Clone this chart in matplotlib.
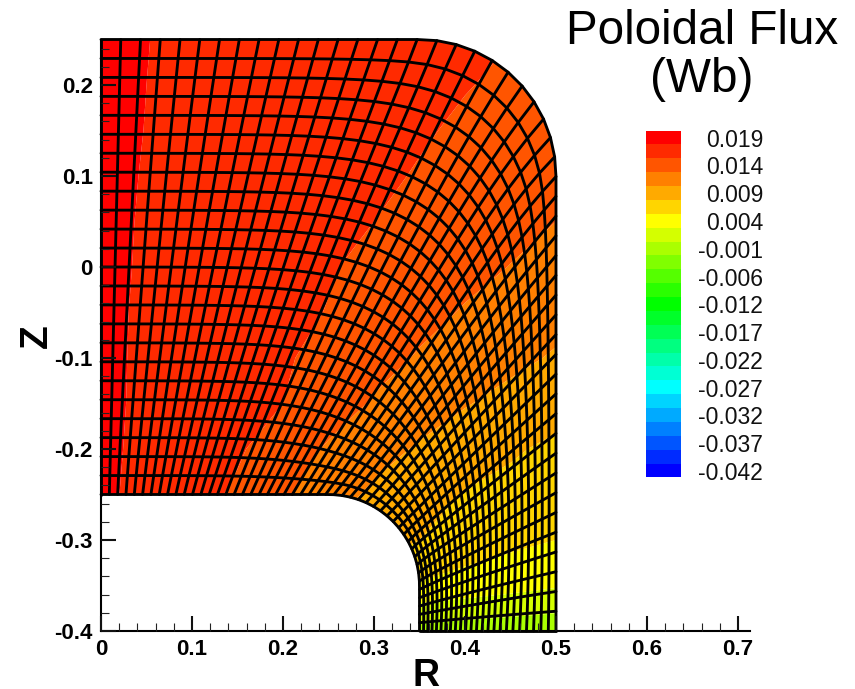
import numpy as np
import matplotlib
matplotlib.use("Agg")
import matplotlib.pyplot as plt
from matplotlib.colors import ListedColormap, BoundaryNorm, hsv_to_rgb
from matplotlib.path import Path
from matplotlib.patches import PathPatch

plt.rcParams['font.family'] = ['Liberation Sans', 'DejaVu Sans']

W, H = 855, 689
# colour bar
cbar_labels = ['0.019', '0.014', '0.009', '0.004', '-0.001', '-0.006', '-0.012',
               '-0.017', '-0.022', '-0.027', '-0.032', '-0.037', '-0.042']
flux_max, flux_min, n_bands = 0.019, -0.042, 25
# axis ticks
x_major = [0, 0.1, 0.2, 0.3, 0.4, 0.5, 0.6, 0.7]
x_labels = ['0', '0.1', '0.2', '0.3', '0.4', '0.5', '0.6', '0.7']
y_major = [-0.4, -0.3, -0.2, -0.1, 0, 0.1, 0.2]
y_labels = ['-0.4', '-0.3', '-0.2', '-0.1', '0', '0.1', '0.2']

# geometry of the domain
R_outer, Z_top, Z_bot_edge = 0.5, 0.25, -0.4
arc_outer_r, arc_inner_r = 0.15, 0.10
R_inner, Z_inner = 0.35, -0.25
n_cols, n_rows = 50, 24
bottom_cell_ratio = 1.9
blend_power = 3
smooth_passes = 40

# flux, expressed as position in the band sequence
grid_R = [0, .05, .10, .15, .20, .25, .30, .35, .40, .45, .50]
grid_Z = [.25, .20, .15, .10, .05, 0, -.05, -.10, -.15, -.20, -.25, -.30, -.35, -.40]
band_z_p25 = [.865, .99, 1.115, 1.24, 1.36, 1.49, 1.61, 1.74, 1.86, 1.99, 2.11]
band_z_p20 = [.86, 1.0, 1.14, 1.28, 1.42, 1.56, 1.69, 1.83, 1.97, 2.11, 2.25]
band_z_p15 = [.86, 1.01, 1.17, 1.32, 1.47, 1.62, 1.78, 1.93, 2.10, 2.30, 2.49]
band_z_p10 = [.86, 1.03, 1.19, 1.36, 1.53, 1.70, 1.87, 2.05, 2.27, 2.50, 2.73]
band_z_p05 = [.86, 1.05, 1.24, 1.42, 1.62, 1.81, 2.00, 2.25, 2.50, 2.75, 3.00]
band_z_0 = [.85, 1.07, 1.29, 1.50, 1.72, 1.94, 2.19, 2.47, 2.74, 3.02, 3.34]
band_z_m05 = [.86, 1.09, 1.32, 1.56, 1.79, 2.03, 2.38, 2.73, 3.07, 3.38, 3.69]
band_z_m10 = [.85, 1.11, 1.38, 1.64, 1.90, 2.27, 2.68, 3.08, 3.42, 3.76, 4.10]
band_z_m15 = [.84, 1.13, 1.42, 1.71, 2.00, 2.56, 3.09, 3.51, 3.94, 4.30, 4.65]
band_z_m20 = [.83, 1.18, 1.54, 1.89, 2.47, 3.11, 3.63, 4.11, 4.52, 4.89, 5.18]
band_z_m25 = [.83, 1.25, 1.67, 2.14, 2.86, 3.57, 4.18, 4.64, 5.05, 5.25, 5.45]
band_z_m30 = [.80, 1.30, 2.00, 2.80, 3.50, 4.20, 4.60, 5.00, 5.45, 5.75, 6.00]
band_z_m35 = [1.0, 1.50, 2.30, 3.20, 4.00, 4.70, 5.40, 6.10, 6.40, 6.65, 6.90]
band_z_m40 = [2.0, 3.00, 4.00, 5.00, 6.00, 7.00, 7.80, 8.40, 8.50, 8.60, 8.70]

band_table = np.array([band_z_p25, band_z_p20, band_z_p15, band_z_p10, band_z_p05, band_z_0,
                       band_z_m05, band_z_m10, band_z_m15, band_z_m20, band_z_m25,
                       band_z_m30, band_z_m35, band_z_m40])


def arc(cx, cy, r, a0, a1, n=60):
    a = np.radians(np.linspace(a0, a1, n))
    return np.column_stack([cx + r * np.cos(a), cy + r * np.sin(a)])


def resample(poly, n):
    d = np.r_[0, np.cumsum(np.hypot(*np.diff(poly, axis=0).T))]
    s = np.linspace(0, d[-1], n)
    return np.column_stack([np.interp(s, d, poly[:, 0]), np.interp(s, d, poly[:, 1])])


outer_poly = np.vstack([[[0, Z_top]],
                        arc(R_outer - arc_outer_r, Z_top - arc_outer_r, arc_outer_r, 90, 0),
                        [[R_outer, Z_bot_edge]]])
inner_poly = np.vstack([[[0, Z_inner]],
                        arc(R_inner - arc_inner_r, Z_inner - arc_inner_r, arc_inner_r, 90, 0),
                        [[R_inner, Z_bot_edge]]])
outer_pts = resample(outer_poly, n_cols + 1)
inner_pts = resample(inner_poly, n_cols + 1)

u = np.linspace(0, 1, n_rows + 1)
g = bottom_cell_ratio ** (1 / (n_rows - 1))
b = np.r_[0, np.cumsum(g ** np.arange(n_rows))]
b = b / b[-1]
s = np.linspace(0, 1, n_cols + 1)[:, None] ** blend_power
t = (1 - s) * u[None, :] + s * b[None, :]
mesh_R = inner_pts[:, 0, None] * (1 - t) + outer_pts[:, 0, None] * t
mesh_Z = inner_pts[:, 1, None] * (1 - t) + outer_pts[:, 1, None] * t
for _ in range(smooth_passes):
    for m in (mesh_R, mesh_Z):
        m[1:-1, 1:-1] = 0.25 * (m[2:, 1:-1] + m[:-2, 1:-1] + m[1:-1, 2:] + m[1:-1, :-2])

# figure
fig = plt.figure(figsize=(W / 100, H / 100), dpi=100)
x0, x_per, y0, y_per = 101, 910, 631, 910
xlim = (0, (750 - x0) / x_per)
ylim = (Z_bot_edge, Z_top)
ax = fig.add_axes([x0 / W, (H - y0) / H, (xlim[1]) * x_per / W, (ylim[1] - ylim[0]) * y_per / H])
ax.set_xlim(*xlim)
ax.set_ylim(*ylim)

step = (flux_max - flux_min) / (n_bands - 1)
edges = flux_max + step / 2 - step * np.arange(n_bands + 1)
colors = [hsv_to_rgb((k * 10 / 360, 1, 1)) for k in range(n_bands)]
cmap = ListedColormap(colors[::-1])
norm = BoundaryNorm(edges[::-1], n_bands)

flux_table = flux_max + step / 2 - step * band_table
domain = np.vstack([outer_poly, inner_poly[::-1]])
clip = PathPatch(Path(np.vstack([domain, domain[:1]])), fc='none', ec='none', transform=ax.transData)
ax.add_patch(clip)
cs = ax.contourf(grid_R, grid_Z, flux_table, levels=edges[::-1], cmap=cmap, norm=norm,
                 antialiased=True, zorder=1)
cs.set_clip_path(clip)

lw = 2.05
for i in range(n_cols + 1):
    ax.plot(mesh_R[i], mesh_Z[i], color='k', lw=lw, zorder=2, clip_on=False, solid_capstyle='round')
for j in range(n_rows + 1):
    ax.plot(mesh_R[:, j], mesh_Z[:, j], color='k', lw=lw, zorder=2, clip_on=False, solid_capstyle='round')

for sp in ['top', 'right']:
    ax.spines[sp].set_visible(False)
for sp in ['left', 'bottom']:
    ax.spines[sp].set_linewidth(1.5)
ax.set_axisbelow(False)
ax.set_xticks(x_major)
ax.set_xticklabels(x_labels)
ax.set_yticks(y_major)
ax.set_yticklabels(y_labels)
ax.set_xticks(np.arange(0, 0.7001, 0.02), minor=True)
ax.set_yticks(np.arange(-0.4, 0.2501, 0.02), minor=True)
ax.tick_params(which='major', direction='in', length=10.8, width=1.5, color='#111111')
ax.tick_params(which='minor', direction='in', length=6, width=0.8, color='#222222')
ax.tick_params(axis='x', which='major', pad=6, labelsize=16)
ax.tick_params(axis='y', which='major', pad=6, labelsize=16)
for lab in ax.get_xticklabels() + ax.get_yticklabels():
    lab.set_fontweight('bold')

fig.text(425.5 / W, 1 - 686.5 / H, 'R', fontsize=27, fontweight='bold', ha='center', va='baseline')
fig.text(37 / W, 1 - 336 / H, 'Z', fontsize=28, fontweight='bold', ha='center', va='center', rotation=90)
fig.text(702 / W, 1 - 31 / H, 'Poloidal Flux', fontsize=34.3, ha='center', va='center')
fig.text(702 / W, 1 - 80 / H, '(Wb)', fontsize=34.3, ha='center', va='center')

# colour bar
cx0, cx1, cy0, cy1 = 646, 681, 130.5, 477.5
cax = fig.add_axes([cx0 / W, 1 - cy1 / H, (cx1 - cx0) / W, (cy1 - cy0) / H])
cax.pcolormesh([0, 1], edges[::-1], (edges[::-1][:-1] + edges[::-1][1:])[:, None] / 2, cmap=cmap, norm=norm)
cax.set_ylim(edges[-1], edges[0])
cax.axis('off')
for k, lab in enumerate(cbar_labels):
    cax.annotate(lab, xy=((763 - cx0) / (cx1 - cx0), flux_max - 2 * k * step),
                 xycoords=cax.get_yaxis_transform(), xytext=(0, -2), textcoords='offset points',
                 fontsize=16.5, ha='right', va='center', color='#111111', annotation_clip=False)

fig.savefig('out.png', dpi=100)
